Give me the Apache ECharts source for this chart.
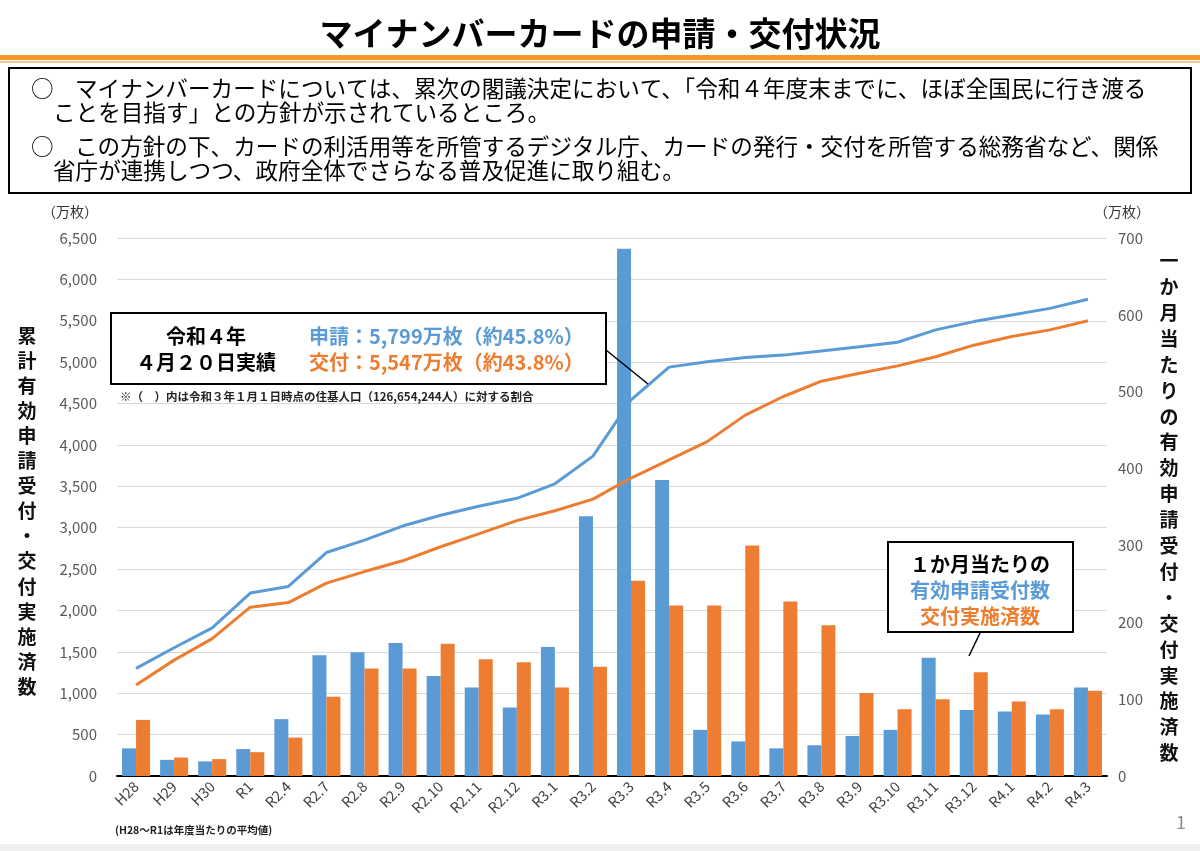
<!DOCTYPE html>
<html>
<head>
<meta charset="utf-8">
<script src="https://cdn.jsdelivr.net/npm/echarts@6/dist/echarts.min.js"></script>
<style>
html,body{margin:0;padding:0;background:#fff;}
#main{width:1200px;height:851px;}
</style>
</head>
<body>
<div id="main"></div>
<script>
// ---- data ----
const categories = ['H28','H29','H30','R1','R2.4','R2.7','R2.8','R2.9','R2.10','R2.11','R2.12','R3.1','R3.2','R3.3','R3.4','R3.5','R3.6','R3.7','R3.8','R3.9','R3.10','R3.11','R3.12','R4.1','R4.2','R4.3'];
// cumulative (left axis, 万枚)
const cumApplied = [1300,1550,1790,2210,2290,2700,2850,3020,3150,3260,3355,3530,3865,4545,4940,5005,5055,5085,5135,5185,5240,5390,5490,5570,5650,5760];
const cumIssued  = [1100,1400,1660,2040,2095,2330,2470,2600,2770,2925,3085,3205,3345,3600,3820,4040,4360,4585,4770,4865,4955,5065,5205,5310,5390,5500];
// per month (right axis, 万枚)
const monthlyApplied = [36,21,19,35,74,157,161,173,130,115,89,168,338,686,385,60,45,36,40,52,60,154,86,84,80,115];
const monthlyIssued  = [73,24,22,31,50,103,140,140,172,152,148,115,142,254,222,222,300,227,196,108,87,100,135,97,87,111];
const leftTicks = {min:0, max:6500, interval:500};
const rightTicks = {min:0, max:700, interval:100};

const title = 'マイナンバーカードの申請・交付状況';
const boxLines = [
  'マイナンバーカードについては、累次の閣議決定において、「令和４年度末までに、ほぼ全国民に行き渡る',
  'ことを目指す」との方針が示されているところ。',
  'この方針の下、カードの利活用等を所管するデジタル庁、カードの発行・交付を所管する総務省など、関係',
  '省庁が連携しつつ、政府全体でさらなる普及促進に取り組む。'
];
const leftTitle = '累計有効申請受付・交付実施済数';
const rightTitle = '一か月当たりの有効申請受付・交付実施済数';

const BLUE = '#5b9bd5', ORANGE = '#ed7d31';
const FONT = '"Noto Sans CJK JP", "Noto Sans", sans-serif';

const chart = echarts.init(document.getElementById('main'));

function fmt(v){ return v.toString().replace(/\B(?=(\d{3})+(?!\d))/g, ','); }

const BOXFONT = '22.6px ' + FONT;
const graphics = [
  // title
  {type:'text', style:{text:title, x:600, y:33, textAlign:'center', textVerticalAlign:'middle', font:'bold 33px '+FONT, fill:'#000'}},
  {type:'rect', shape:{x:0,y:55,width:1200,height:5}, style:{fill:'#f0962e'}},
  {type:'rect', shape:{x:0,y:61,width:1200,height:2}, style:{fill:'#f8c690'}},
  // text box
  {type:'rect', shape:{x:9,y:68,width:1182,height:125}, style:{fill:'#fff', stroke:'#000', lineWidth:2}},
  {type:'text', style:{text:'○', x:31, y:88, textVerticalAlign:'middle', font:BOXFONT, fill:'#000'}},
  {type:'text', style:{text:boxLines[0], x:75, y:88, textVerticalAlign:'middle', font:BOXFONT, fill:'#000'}},
  {type:'text', style:{text:boxLines[1], x:53, y:112, textVerticalAlign:'middle', font:BOXFONT, fill:'#000'}},
  {type:'text', style:{text:'○', x:31, y:146, textVerticalAlign:'middle', font:BOXFONT, fill:'#000'}},
  {type:'text', style:{text:boxLines[2], x:75, y:146, textVerticalAlign:'middle', font:BOXFONT, fill:'#000'}},
  {type:'text', style:{text:boxLines[3], x:53, y:170, textVerticalAlign:'middle', font:BOXFONT, fill:'#000'}},
  // units
  {type:'text', style:{text:'（万枚）', x:70, y:212, textAlign:'center', textVerticalAlign:'middle', font:'14px '+FONT, fill:'#333'}},
  {type:'text', style:{text:'（万枚）', x:1122, y:212, textAlign:'center', textVerticalAlign:'middle', font:'14px '+FONT, fill:'#333'}},
  // vertical axis titles
  {type:'text', style:{text:leftTitle.split('').join('\n'), x:27, y:511, textAlign:'center', textVerticalAlign:'middle', font:'bold 19px '+FONT, lineHeight:25.1, fill:'#111'}},
  {type:'text', style:{text:rightTitle.split('').join('\n'), x:1169, y:507, textAlign:'center', textVerticalAlign:'middle', font:'bold 19px '+FONT, lineHeight:25.9, fill:'#111'}},
  // annotation 1
  {type:'rect', z:100, shape:{x:111,y:313,width:495,height:71}, style:{fill:'#fff', stroke:'#000', lineWidth:2}},
  {type:'text', z:101, style:{text:'令和４年', x:206, y:336, textAlign:'center', textVerticalAlign:'middle', font:'bold 20px '+FONT, fill:'#000'}},
  {type:'text', z:101, style:{text:'４月２０日実績', x:206, y:362, textAlign:'center', textVerticalAlign:'middle', font:'bold 20px '+FONT, fill:'#000'}},
  {type:'text', z:101, style:{text:'申請：5,799万枚（約45.8%）', x:309, y:336, textVerticalAlign:'middle', font:'bold 20px '+FONT, fill:BLUE}},
  {type:'text', z:101, style:{text:'交付：5,547万枚（約43.8%）', x:309, y:362, textVerticalAlign:'middle', font:'bold 20px '+FONT, fill:ORANGE}},
  {type:'line', z:101, shape:{x1:606,y1:350,x2:648,y2:384}, style:{stroke:'#000', lineWidth:1.5}},
  {type:'text', z:101, style:{text:'※（　）内は令和３年１月１日時点の住基人口（126,654,244人）に対する割合', x:120, y:397, textVerticalAlign:'middle', font:'bold 11.5px '+FONT, fill:'#222'}},
  // annotation 2
  {type:'rect', z:100, shape:{x:888,y:542,width:185,height:90}, style:{fill:'#fff', stroke:'#000', lineWidth:2}},
  {type:'text', z:101, style:{text:'１か月当たりの', x:980, y:564, textAlign:'center', textVerticalAlign:'middle', font:'bold 20px '+FONT, fill:'#000'}},
  {type:'text', z:101, style:{text:'有効申請受付数', x:980, y:590, textAlign:'center', textVerticalAlign:'middle', font:'bold 20px '+FONT, fill:BLUE}},
  {type:'text', z:101, style:{text:'交付実施済数', x:980, y:616, textAlign:'center', textVerticalAlign:'middle', font:'bold 20px '+FONT, fill:ORANGE}},
  {type:'line', z:101, shape:{x1:980,y1:633,x2:969,y2:656}, style:{stroke:'#000', lineWidth:1.5}},
  // footnotes
  {type:'text', style:{text:'(H28～R1は年度当たりの平均値)', x:115, y:830, textVerticalAlign:'middle', font:'bold 10.5px '+FONT, fill:'#222'}},
  {type:'text', style:{text:'1', x:1181, y:822, textAlign:'center', textVerticalAlign:'middle', font:'18px '+FONT, fill:'#8c8c8c'}},
  {type:'rect', shape:{x:0,y:844,width:1200,height:7}, style:{fill:'#efefef'}}
];

const option = {
  animation:false,
  backgroundColor:'#fff',
  textStyle:{fontFamily:FONT},
  grid:{left:117, right:93, top:238, bottom:75, containLabel:false},
  xAxis:{
    type:'category', data:categories, boundaryGap:true,
    axisLine:{show:true, lineStyle:{color:'#000', width:2}},
    axisTick:{show:false},
    axisLabel:{interval:0, rotate:45, fontSize:14.5, color:'#404040', margin:8, fontFamily:FONT}
  },
  yAxis:[
    {type:'value', min:leftTicks.min, max:leftTicks.max, interval:leftTicks.interval, position:'left',
     axisLine:{show:false}, axisTick:{show:false},
     axisLabel:{formatter:fmt, fontSize:15, color:'#595959', margin:20, fontFamily:FONT},
     splitLine:{show:true, lineStyle:{color:'#d9d9d9', width:1}}},
    {type:'value', min:rightTicks.min, max:rightTicks.max, interval:rightTicks.interval, position:'right',
     axisLine:{show:false}, axisTick:{show:false},
     axisLabel:{fontSize:15, color:'#595959', margin:11, fontFamily:FONT},
     splitLine:{show:false}}
  ],
  series:[
    {name:'有効申請受付数', type:'bar', yAxisIndex:1, data:monthlyApplied, barWidth:14, barGap:'0%', itemStyle:{color:BLUE}, z:2},
    {name:'交付実施済数', type:'bar', yAxisIndex:1, data:monthlyIssued, barWidth:14, barGap:'0%', itemStyle:{color:ORANGE}, z:2},
    {name:'申請累計', type:'line', yAxisIndex:0, data:cumApplied, symbol:'none', lineStyle:{color:BLUE, width:3}, itemStyle:{color:BLUE}, z:5},
    {name:'交付累計', type:'line', yAxisIndex:0, data:cumIssued, symbol:'none', lineStyle:{color:ORANGE, width:3}, itemStyle:{color:ORANGE}, z:5}
  ],
  graphic:graphics
};
chart.setOption(option);
</script>
</body>
</html>
